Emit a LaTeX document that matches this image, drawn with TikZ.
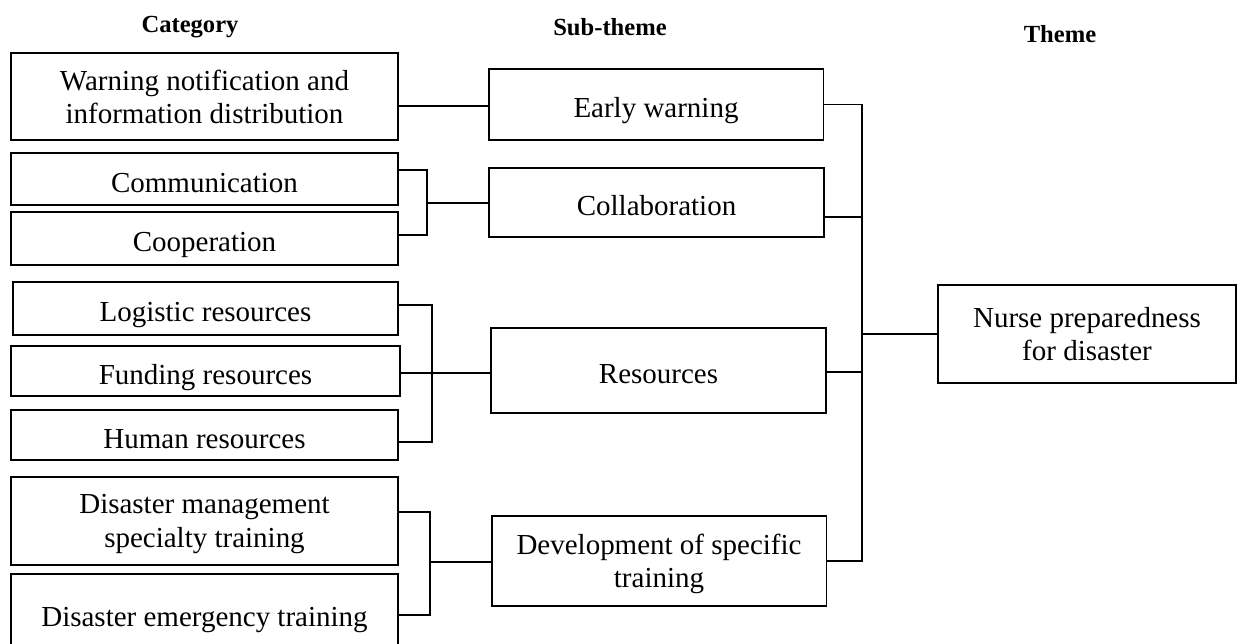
\documentclass[tikz,border=0pt]{standalone}
\usepackage{fontspec}
\setmainfont{Liberation Serif}

\tikzset{
  catbox/.style={draw, line width=1.1pt, minimum width=7.74cm, align=center,
    font=\fontsize{16.5}{19}\selectfont},
  subbox/.style={catbox, minimum width=6.7cm},
  oneline/.style={text height=15pt, text depth=0pt},
  twoline/.style={text depth=0pt},
  head/.style={font=\fontsize{14}{16}\selectfont\bfseries},
  link/.style={line width=0.6pt}
}

\begin{document}
\begin{tikzpicture}[x=0.02cm, y=-0.02cm]
    \useasboundingbox (0,0) rectangle (1239,643);

    % Column headings
    \node[head] (hcat) at (190,27) {Category};
    \node[head] (hsub) at (610,27) {Sub-theme};
    \node[head] (hthm) at (1060,34) {Theme};

    % Categories
    \node[catbox, twoline, minimum height=1.74cm] (warn) at (204.5,96.5) {Warning notification and\\information distribution};
    \node[catbox, oneline, minimum height=1.04cm] (comm) at (204.5,179) {Communication};
    \node[catbox, oneline, minimum height=1.06cm] (coop) at (204.5,238.5) {Cooperation};
    \node[catbox, oneline, minimum width=7.7cm, minimum height=1.06cm] (logi) at (205.5,308.5) {Logistic resources};
    \node[catbox, oneline, minimum width=7.78cm, minimum height=1cm] (fund) at (205.5,371) {Funding resources};
    \node[catbox, oneline, minimum height=1cm] (hum) at (204.5,435) {Human resources};
    \node[catbox, twoline, minimum height=1.76cm] (dmst) at (204.5,521) {Disaster management\\specialty training};
    \node[catbox, oneline, minimum height=1.56cm] (demt) at (204.5,613) {Disaster emergency training};

    % Sub-themes
    \node[subbox, oneline, minimum height=1.42cm] (early) at (656,104.5) {Early warning};
    \node[subbox, oneline, minimum height=1.38cm] (collab) at (656.5,202.5) {Collaboration};
    \node[subbox, oneline, minimum height=1.7cm] (res) at (658.5,370.5) {Resources};
    \node[subbox, twoline, minimum height=1.8cm] (dev) at (659,561) {Development of specific\\training};

    % Theme
    \node[subbox, twoline, minimum width=5.96cm, minimum height=1.96cm] (nurse) at (1087,334) {Nurse preparedness\\for disaster};

    % Category -> sub-theme brackets
    \coordinate (jcol) at (427,203);
    \coordinate (jres) at (432,373);
    \coordinate (jtrn) at (430,562);
    \draw[link] (warn.east |- 0,106) -- (early.west |- 0,106);
    \draw[link] (comm.east |- 0,170) -| (jcol) |- (coop.east |- 0,235);
    \draw[link] (jcol) -- (collab.west |- jcol);
    \draw[link] (logi.east |- 0,305) -| (jres) |- (hum.east |- 0,442);
    \draw[link] (fund.east |- jres) -- (res.west |- jres);
    \draw[link] (dmst.east |- 0,512) -| (jtrn) |- (demt.east |- 0,615);
    \draw[link] (jtrn) -- (dev.west |- jtrn);

    % Sub-theme -> theme
    \coordinate (jthm) at (862,334);
    \draw[link] (early.east) -| (jthm) |- (dev.east);
    \draw[link] (collab.east |- 0,217) -- (jthm |- 0,217);
    \draw[link] (res.east |- 0,372) -- (jthm |- 0,372);
    \draw[link] (jthm) -- (nurse.west);
\end{tikzpicture}
\end{document}
